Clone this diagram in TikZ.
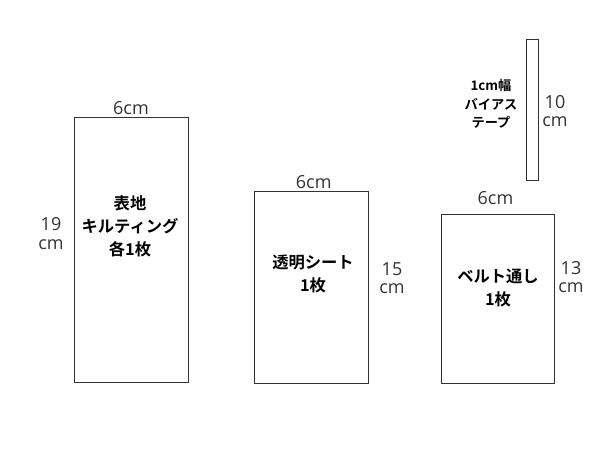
\documentclass[tikz,border=0pt]{standalone}
\usepackage{fontspec}
\setmainfont{Open Sans}
\newfontfamily\jpfont{Noto Sans CJK JP}[BoldFont={Noto Sans CJK JP Bold}]
\usepackage{tikz}
\usetikzlibrary{positioning}
\tikzstyle{sheet} = [rectangle, draw=black!80, line width=1pt, inner sep=0pt, outer sep=0pt]
\tikzstyle{sizelabel} = [inner sep=0pt, align=center, text=black!80, font=\fontsize{18}{18.5}\selectfont]
\tikzstyle{partname} = [inner sep=0pt, align=center, font=\jpfont\bfseries\fontsize{16.3}{23}\selectfont]
\begin{document}
\begin{tikzpicture}[x=1pt, y=-1pt]
                    \useasboundingbox (0,0) rectangle (600,450);
                    \node (omote) [sheet, minimum width=114pt, minimum height=264.5pt] at (131,250) {};
                    \node (toumei) [sheet, minimum width=113.5pt, minimum height=191.5pt] at (311.7,287.5) {};
                    \node (belt) [sheet, minimum width=112.5pt, minimum height=169pt] at (498,298.7) {};
                    \node (bias) [sheet, minimum width=12pt, minimum height=141pt] at (532.4,110) {};
                    \node (omoteW) [sizelabel, above=3pt of omote] {6cm};
                    \node (toumeiW) [sizelabel, above=3pt of toumei, xshift=2pt] {6cm};
                    \node (beltW) [sizelabel, above=9pt of belt, xshift=-2.5pt] {6cm};
                    \node (omoteH) [sizelabel] at (51,233.5) {19\\cm};
                    \node (toumeiH) [sizelabel] at (392,278) {15\\cm};
                    \node (beltH) [sizelabel] at (571,277) {13\\cm};
                    \node (biasH) [sizelabel] at (555,111) {10\\cm};
                    \node (omoteT) [partname] at (130,226) {表地\\キルティング\\各1枚};
                    \node (toumeiT) [partname] at (313,274) {透明シート\\1枚};
                    \node (beltT) [partname] at (498,288) {ベルト通し\\1枚};
                    \node (biasT) [partname, font=\jpfont\bfseries\fontsize{13.2}{18.5}\selectfont] at (491,104) {1cm幅\\バイアス\\テープ};
                \end{tikzpicture}
\end{document}
